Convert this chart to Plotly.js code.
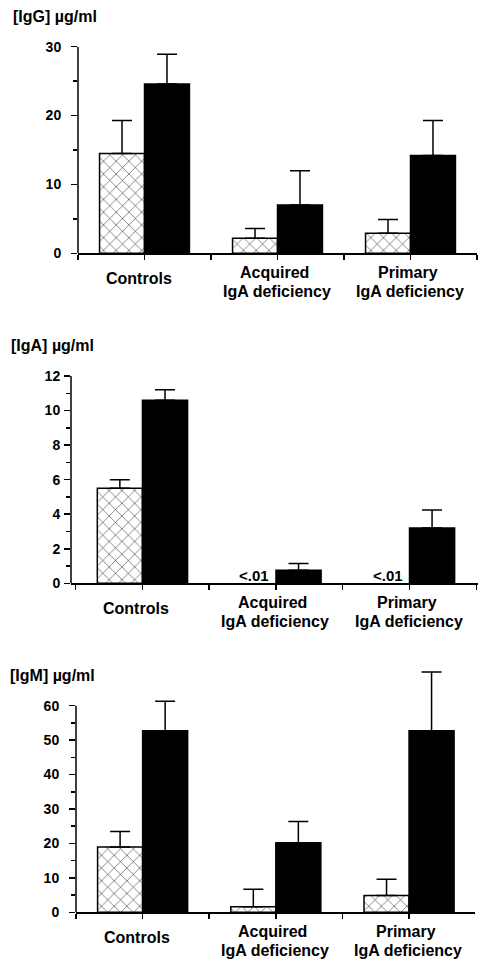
<!DOCTYPE html>
<html>
<head>
<meta charset="utf-8">
<script src="https://cdn.plot.ly/plotly-3.0.1.min.js"></script>
<style>html,body{margin:0;padding:0;background:#fff;}#chart{width:478px;height:962px;}</style>
</head>
<body>
<div id="chart"></div>
<script>
// ---- data ----
const catPositions = [0, 1, 2];
const catLine1 = ['Controls', 'Acquired', 'Primary'];
const catLine2 = ['', 'IgA deficiency', 'IgA deficiency'];
const panelTitles = ['[IgG] \u00b5g/ml', '[IgA] \u00b5g/ml', '[IgM] \u00b5g/ml'];

const igGHatched = [14.5, 2.2, 2.9];
const igGHatchedErr = [4.8, 1.4, 2.0];
const igGBlack = [24.6, 7.0, 14.2];
const igGBlackErr = [4.3, 5.0, 5.1];

const igAHatched = [5.5, null, null];
const igAHatchedErr = [0.5, 0, 0];
const igAHatchedNote = ['', '<.01', '<.01'];
const igABlack = [10.6, 0.75, 3.2];
const igABlackErr = [0.6, 0.4, 1.05];

const igMHatched = [19.0, 1.6, 4.9];
const igMHatchedErr = [4.5, 5.1, 4.7];
const igMBlack = [52.7, 20.2, 52.7];
const igMBlackErr = [8.6, 6.2, 17.1];

const yTicks = [[0, 10, 20, 30], [0, 2, 4, 6, 8, 10, 12], [0, 10, 20, 30, 40, 50, 60]];
const yMinorTicks = [[5, 15, 25], [1, 3, 5, 7, 9, 11], [5, 15, 25, 35, 45, 55]];
const yAxisTop = [30, 12, 60];   // where each value axis line ends
const yRangeTop = [30, 12, 72];  // plotting room (error bars may overshoot the axis)

// ---- styling helpers ----
const FONT = 'Liberation Sans, Arial, Helvetica, sans-serif';
const zeros = [0, 0, 0];
function errY(arr) {
  return {type: 'data', array: arr, arrayminus: zeros, symmetric: false,
          color: '#000', thickness: 1.5, width: 10};
}
function hatched(y, err, ax) {
  return {type: 'bar', x: catPositions, y: y, xaxis: 'x' + ax, yaxis: 'y' + ax,
    offsetgroup: 'a', error_y: errY(err), hoverinfo: 'skip',
    marker: {color: '#fff', line: {color: '#000', width: 1.5},
      pattern: {shape: 'x', fgcolor: '#000', bgcolor: '#fff', size: 9, solidity: 0.1}}};
}
function black(y, err, ax) {
  return {type: 'bar', x: catPositions, y: y, xaxis: 'x' + ax, yaxis: 'y' + ax,
    offsetgroup: 'b', error_y: errY(err), hoverinfo: 'skip',
    marker: {color: '#000', line: {color: '#000', width: 1.5}}};
}

const data = [
  hatched(igGHatched, igGHatchedErr, ''), black(igGBlack, igGBlackErr, ''),
  hatched(igAHatched, igAHatchedErr, '2'), black(igABlack, igABlackErr, '2'),
  hatched(igMHatched, igMHatchedErr, '3'), black(igMBlack, igMBlackErr, '3')
];

// pixel geometry of each panel (y0 = pixel row of value 0, yt = pixel row of axis top value)
const W = 478, H = 962;
const panels = [
  {xl: 78, xr: 477, xrange: [-0.5, 2.5], y0: 253.3, yt: 46.7, standoff: 7, titleY: 17, titleX: 11},
  {xl: 71, xr: 478, xrange: [-0.535, 2.513], y0: 583.3, yt: 376, standoff: 1, titleY: 346, titleX: 9},
  {xl: 76, xr: 475, xrange: [-0.5, 2.495], y0: 912.3, yt: 705.7, standoff: 7, titleY: 675, titleX: 8}
];

const layout = {
  width: W, height: H, margin: {l: 0, r: 0, t: 0, b: 0},
  paper_bgcolor: '#fff', plot_bgcolor: 'rgba(0,0,0,0)',
  showlegend: false, barmode: 'group', bargap: 0.324, bargroupgap: 0,
  font: {family: FONT, color: '#000'},
  annotations: [], shapes: [], hovermode: false
};

panels.forEach((p, i) => {
  const sfx = i === 0 ? '' : String(i + 1);
  const pxPerUnit = (p.y0 - p.yt) / yAxisTop[i];
  const topPx = p.y0 - yRangeTop[i] * pxPerUnit;
  layout['xaxis' + sfx] = {
    domain: [p.xl / W, p.xr / W], range: p.xrange, anchor: 'y' + sfx,
    tickvals: [-0.5, 0, 0.5, 1, 1.5, 2, 2.5], showticklabels: false,
    ticks: 'outside', ticklen: 5, tickwidth: 1.5, tickcolor: '#000',
    showline: true, linewidth: 1.5, linecolor: '#000',
    showgrid: false, zeroline: false, fixedrange: true
  };
  layout['yaxis' + sfx] = {
    domain: [1 - p.y0 / H, 1 - topPx / H], range: [0, yRangeTop[i]], anchor: 'x' + sfx,
    tickmode: 'array', tickvals: yTicks[i],
    ticks: 'outside', ticklen: 6, tickwidth: 1.5, tickcolor: '#000',
    ticklabelstandoff: p.standoff,
    minor: {tickmode: 'array', tickvals: yMinorTicks[i], ticks: 'outside', ticklen: 4, tickwidth: 1.5, tickcolor: '#000'},
    showline: false,
    showgrid: false, zeroline: false, fixedrange: true,
    tickfont: {family: FONT, size: 14, weight: 700, color: '#000'}
  };
  layout.shapes.push({
    type: 'line', xref: 'x' + sfx + ' domain', yref: 'y' + sfx,
    x0: 0, x1: 0, y0: 0, y1: yAxisTop[i],
    line: {color: '#000', width: 1.5}
  });
  layout.annotations.push({
    xref: 'paper', yref: 'paper', x: p.titleX / W, y: 1 - p.titleY / H,
    xanchor: 'left', yanchor: 'middle', showarrow: false, text: panelTitles[i],
    font: {family: FONT, size: 16, weight: 700, color: '#000'}
  });
  catPositions.forEach((c, k) => {
    const two = catLine2[k] !== '';
    layout.annotations.push({
      xref: 'x' + sfx, yref: 'y' + sfx, x: c, y: 0,
      xshift: two ? -3 : -6, yshift: two ? -19 : -25,
      xanchor: 'center', yanchor: 'middle', showarrow: false, text: catLine1[k],
      font: {family: FONT, size: 16, weight: 700, color: '#000'}
    });
    if (two) layout.annotations.push({
      xref: 'x' + sfx, yref: 'y' + sfx, x: c, y: 0,
      xshift: -1, yshift: -38,
      xanchor: 'center', yanchor: 'middle', showarrow: false, text: catLine2[k],
      font: {family: FONT, size: 16, weight: 700, color: '#000'}
    });
  });
});

igAHatchedNote.forEach((t, k) => {
  if (!t) return;
  layout.annotations.push({
    xref: 'x2', yref: 'y2', x: catPositions[k], y: 0, xshift: -22, yshift: -3,
    xanchor: 'center', yanchor: 'bottom', showarrow: false, text: t.replace('<', '&lt;'),
    font: {family: FONT, size: 15, weight: 700, color: '#000'}
  });
});

Plotly.newPlot('chart', data, layout, {staticPlot: true, displayModeBar: false});
</script>
</body>
</html>
